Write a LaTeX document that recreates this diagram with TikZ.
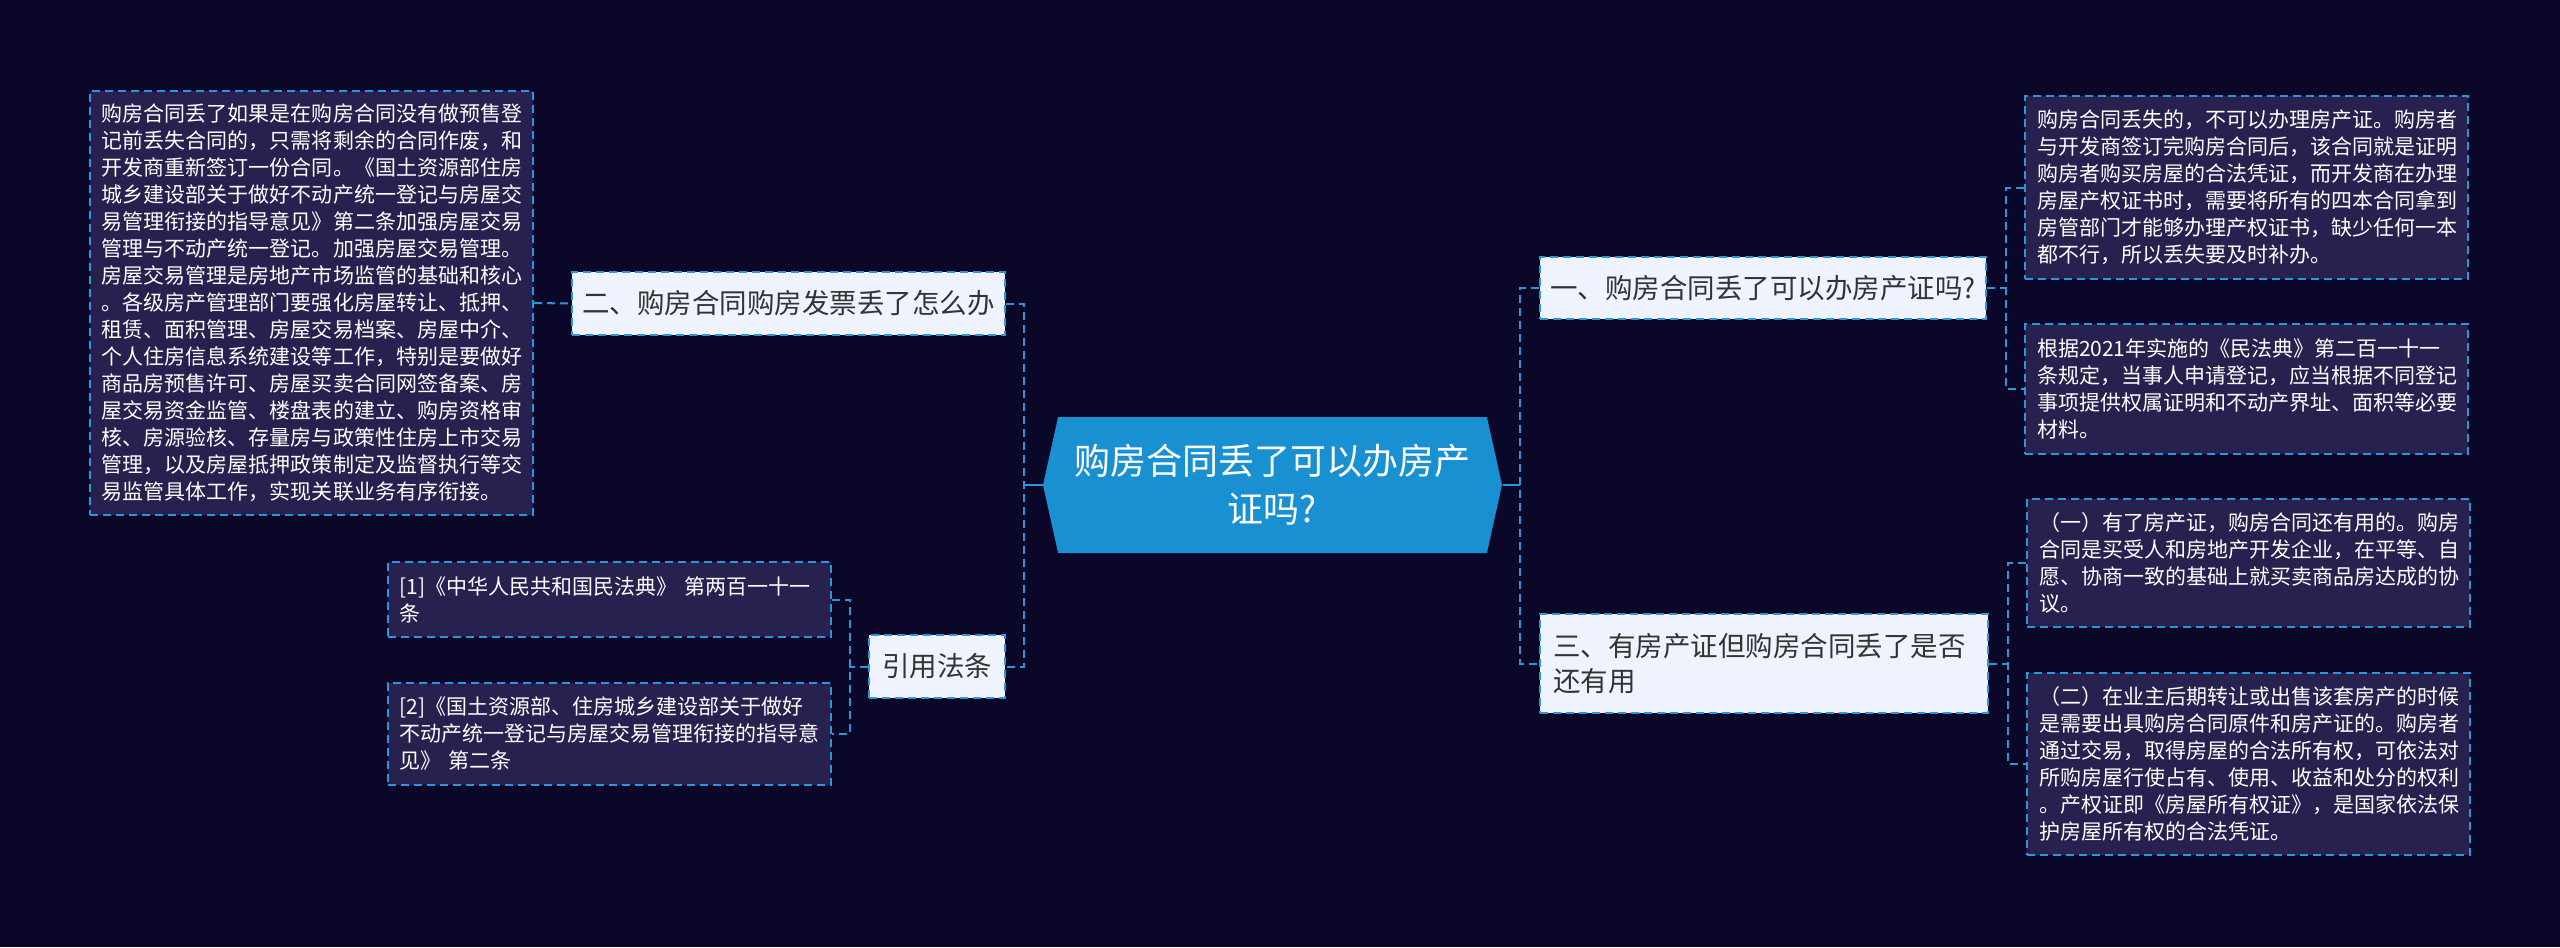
\documentclass[tikz,border=0pt]{standalone}
\usepackage{fontspec}
\setmainfont{Noto Sans CJK SC}
\usepackage{xcolor}
\usepackage{tikz}
\usetikzlibrary{shapes.symbols}

\definecolor{bgnavy}{HTML}{0B0728}
\definecolor{leafbg}{HTML}{26214E}
\definecolor{linkblue}{HTML}{2A96DC}
\definecolor{rootblue}{HTML}{1890D2}
\definecolor{topicbg}{HTML}{EEF3FD}
\definecolor{topictext}{HTML}{333333}

\begin{document}
\begin{tikzpicture}[x=0.4pt,y=-0.4pt,
  link/.style={draw=linkblue,line width=0.8pt,dash pattern=on 3.2pt off 2pt},
  stem/.style={draw=linkblue,line width=0.8pt},
  topic/.style={fill=topicbg,draw=linkblue,line width=0.8pt,dash pattern=on 3.2pt off 2pt,
    text=topictext,font=\fontsize{11pt}{14pt}\selectfont,inner sep=0pt},
  leaf/.style={fill=leafbg,draw=linkblue,line width=0.8pt,dash pattern=on 3.2pt off 2pt,
    text=white,font=\fontsize{8.4pt}{10.8pt}\selectfont,align=left,
    inner xsep=4.8pt,inner ysep=0pt,text width=167.6pt}]

% parameters
\def\px{0.4pt}

% canvas
\useasboundingbox (0,0) rectangle (2560,947);
\fill[bgnavy] (0,0) rectangle (2560,947);

% central topic
\node[signal,signal to=west and east,signal pointer angle=155,fill=rootblue,
  minimum width=459*\px,minimum height=136*\px,inner sep=0pt,
  text=white,font=\fontsize{14.4pt}{19.2pt}\selectfont,align=center]
  (root) at (1272.5,485) {购房合同丢了可以办房产\\证吗?};

% main branches
\node[topic,minimum width=446*\px,minimum height=62*\px] (one) at (1763,288)
  {一、购房合同丢了可以办房产证吗?};
\node[topic,minimum width=433*\px,minimum height=63*\px] (two) at (788.5,303.5)
  {二、购房合同购房发票丢了怎么办};
\node[topic,minimum height=99*\px,text width=422*\px,inner xsep=13*\px,align=left]
  (three) at (1764,663.5) {三、有房产证但购房合同丢了是否\\还有用};
\node[topic,minimum width=136*\px,minimum height=63*\px] (cite) at (937,666.5)
  {引用法条};

% leaves of one
\node[leaf,minimum height=183*\px] (oneA) at (2246.5,187.5)
  {购房合同丢失的，不可以办理房产证。购房者\\与开发商签订完购房合同后，该合同就是证明\\购房者购买房屋的合法凭证，而开发商在办理\\房屋产权证书时，需要将所有的四本合同拿到\\房管部门才能够办理产权证书，缺少任何一本\\都不行，所以丢失要及时补办。};
\node[leaf,minimum height=130*\px] (oneB) at (2246.5,389)
  {根据2021年实施的《民法典》第二百一十一\\条规定，当事人申请登记，应当根据不同登记\\事项提供权属证明和不动产界址、面积等必要\\材料。};

% leaves of three
\node[leaf,minimum height=128*\px] (threeA) at (2248.5,563)
  {（一）有了房产证，购房合同还有用的。购房\\合同是买受人和房地产开发企业，在平等、自\\愿、协商一致的基础上就买卖商品房达成的协\\议。};
\node[leaf,minimum height=182*\px] (threeB) at (2248.5,764)
  {（二）在业主后期转让或出售该套房产的时候\\是需要出具购房合同原件和房产证的。购房者\\通过交易，取得房屋的合法所有权，可依法对\\所购房屋行使占有、使用、收益和处分的权利\\。产权证即《房屋所有权证》，是国家依法保\\护房屋所有权的合法凭证。};

% leaf of two
\node[leaf,minimum height=424*\px] (twoA) at (311.5,303)
  {购房合同丢了如果是在购房合同没有做预售登\\记前丢失合同的，只需将剩余的合同作废，和\\开发商重新签订一份合同。《国土资源部住房\\城乡建设部关于做好不动产统一登记与房屋交\\易管理衔接的指导意见》第二条加强房屋交易\\管理与不动产统一登记。加强房屋交易管理。\\房屋交易管理是房地产市场监管的基础和核心\\。各级房产管理部门要强化房屋转让、抵押、\\租赁、面积管理、房屋交易档案、房屋中介、\\个人住房信息系统建设等工作，特别是要做好\\商品房预售许可、房屋买卖合同网签备案、房\\屋交易资金监管、楼盘表的建立、购房资格审\\核、房源验核、存量房与政策性住房上市交易\\管理，以及房屋抵押政策制定及监督执行等交\\易监管具体工作，实现关联业务有序衔接。};

% references
\node[leaf,minimum height=75*\px] (citeA) at (609,599.5)
  {[1]《中华人民共和国民法典》~第两百一十一\\条};
\node[leaf,minimum height=102*\px] (citeB) at (609,734)
  {[2]《国土资源部、住房城乡建设部关于做好\\不动产统一登记与房屋交易管理衔接的指导意\\见》~第二条};

% junctions
\coordinate (jL) at (1024,485);
\coordinate (jR) at (1520,485);
\coordinate (jOne) at (2006,288);
\coordinate (jThree) at (2008,663.5);
\coordinate (jCite) at (850,666.5);

% connectors
\draw[stem] (root.west) -- (jL);
\draw[stem] (root.east) -- (jR);
\draw[link] (two.east) -| (jL) |- (cite.east);
\draw[link] (one.west) -| (jR) |- (three.west);
\draw[link] (one.east) -- (jOne);
\draw[link] (oneA.west) -| (jOne) |- (oneB.west);
\draw[link] (three.east) -- (jThree);
\draw[link] (threeA.west) -| (jThree) |- (threeB.west);
\draw[link] (twoA.east) -- (two.west);
\draw[link] (cite.west) -- (jCite);
\draw[link] (citeA.east) -| (jCite) |- (citeB.east);

\end{tikzpicture}
\end{document}
